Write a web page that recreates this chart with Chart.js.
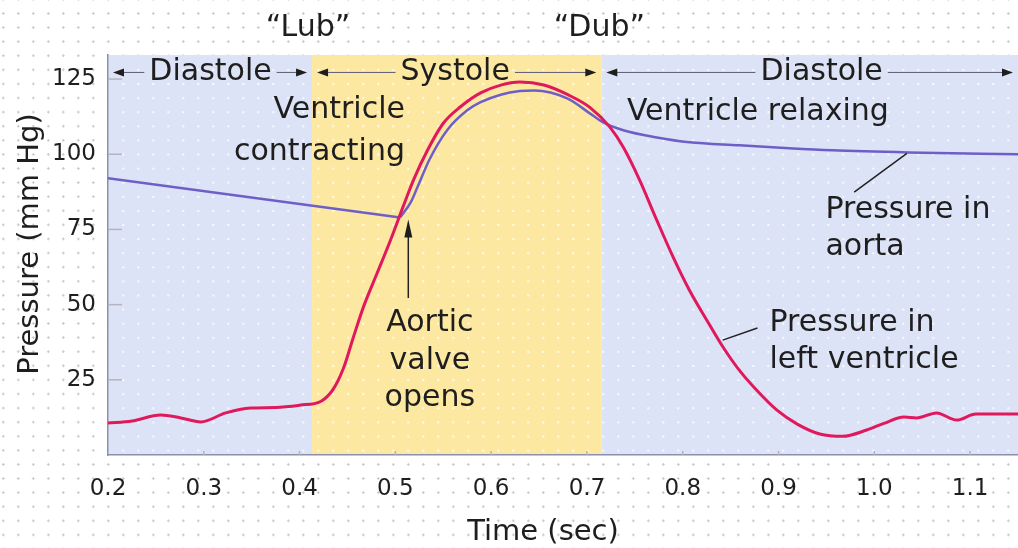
<!DOCTYPE html>
<html>
<head>
<meta charset="utf-8">
<script src="https://cdn.jsdelivr.net/npm/chart.js@4.4.0/dist/chart.umd.min.js"></script>
<style>
  html, body { margin: 0; padding: 0; }
  body {
    width: 1018px; height: 548px; overflow: hidden;
    background-color: #fff;
    background-image: radial-gradient(circle, #c4c4c4 0.9px, transparent 1.4px);
    background-size: 15px 14.1px;
    background-position: -4.2px 6.4px;
  }
  canvas { display: block; }
</style>
</head>
<body>
<canvas id="chart" width="1018" height="548"></canvas>
<script>
// pressure in the left ventricle (mm Hg) over time (sec)
const lvTime = [0.2, 0.225, 0.255, 0.275, 0.297, 0.323, 0.349, 0.375, 0.401, 0.422, 0.435, 0.446,
  0.456, 0.467, 0.481, 0.495, 0.508, 0.519, 0.533, 0.55, 0.568, 0.589, 0.61, 0.63, 0.655, 0.68,
  0.703, 0.724, 0.738, 0.755, 0.773, 0.79, 0.807, 0.825, 0.842, 0.859, 0.877, 0.898, 0.92, 0.943,
  0.967, 0.992, 1.01, 1.031, 1.044, 1.065, 1.086, 1.106, 1.15];
const lvPressure = [10.6, 11.3, 13.3, 12.4, 11.0, 14.0, 15.6, 15.8, 16.6, 17.8, 21.8, 29,
  39, 49.5, 60.5, 71.5, 82.5, 91.5, 101, 110.3, 115.8, 120.4, 123, 124, 123, 119.8,
  115.6, 109, 102.3, 91.4, 78, 65.8, 54.8, 44.9, 35.9, 28.2, 21.6, 15, 10.2, 7,
  6.2, 8.3, 10.5, 12.6, 12.3, 14, 11.6, 13.6, 13.6];

// pressure in the aorta: slow fall until the valve opens, then the systolic curve
const aortaFallTime = [0.2, 0.505];
const aortaFallPressure = [92, 79];
const aortaTime = [0.505, 0.516, 0.523, 0.536, 0.554, 0.575, 0.589, 0.61, 0.63, 0.645, 0.68,
  0.703, 0.717, 0.738, 0.773, 0.807, 0.859, 0.911, 0.956, 1.036, 1.15];
const aortaPressure = [79, 84, 89, 98.5, 108, 114.6, 117.3, 119.8, 121, 121.2, 118.5,
  113.6, 110.6, 108, 105.6, 104, 103, 102, 101.3, 100.6, 100];

const xTicks = [0.2, 0.3, 0.4, 0.5, 0.6, 0.7, 0.8, 0.9, 1.0, 1.1];
const yTicks = [25, 50, 75, 100, 125];

// cardiac phases between the bounds
const phaseNames = ['Diastole', 'Systole', 'Diastole'];
const phaseBounds = [0.2, 0.413, 0.715, 1.15];
const heartSounds = ['\u201CLub\u201D', '\u201CDub\u201D'];

const FONT = 'DejaVu Sans';
const INK = '#1e1e1e';

function pts(xs, ys) {
  return xs.map((t, i) => ({ x: t, y: ys[i] }));
}

function arrowHead(ctx, x, y, dir, len, half) {
  // dir: 'left' | 'right' | 'up'
  ctx.beginPath();
  if (dir === 'left') {
    ctx.moveTo(x, y); ctx.lineTo(x + len, y - half); ctx.lineTo(x + len, y + half);
  } else if (dir === 'right') {
    ctx.moveTo(x, y); ctx.lineTo(x - len, y - half); ctx.lineTo(x - len, y + half);
  } else {
    ctx.moveTo(x, y); ctx.lineTo(x - half, y + len); ctx.lineTo(x + half, y + len);
  }
  ctx.closePath();
  ctx.fill();
}

const bandsPlugin = {
  id: 'bands',
  beforeDraw(chart) {
    const { ctx, chartArea: a, scales: { x } } = chart;
    const fills = ['#dde3f6', '#fde8a2', '#dde3f6'];
    ctx.save();
    for (let i = 0; i < phaseNames.length; i++) {
      const x0 = x.getPixelForValue(phaseBounds[i]);
      const x1 = x.getPixelForValue(phaseBounds[i + 1]);
      ctx.fillStyle = fills[i];
      ctx.fillRect(x0, a.top, x1 - x0, a.bottom - a.top);
    }
    // light dot screen like the printed figure
    ctx.fillStyle = 'rgba(255,255,255,0.8)';
    for (let px = 3.3; px < a.right; px += 15) {
      if (px < a.left + 2) continue;
      for (let py = 13.5; py < a.bottom - 2; py += 14.1) {
        if (py < a.top + 2) continue;
        ctx.fillRect(px - 1, py - 1, 2, 2);
      }
    }
    ctx.restore();
  }
};

const notesPlugin = {
  id: 'notes',
  afterDraw(chart) {
    const { ctx, chartArea: a, scales: { x, y } } = chart;
    const X = v => x.getPixelForValue(v);
    const Y = v => y.getPixelForValue(v);
    ctx.save();

    // small inner tick marks
    ctx.strokeStyle = '#b4b4c0';
    ctx.lineWidth = 1.5;
    yTicks.forEach(v => {
      ctx.beginPath(); ctx.moveTo(a.left, Y(v)); ctx.lineTo(a.left + 14, Y(v)); ctx.stroke();
    });
    xTicks.slice(1).forEach(v => {
      ctx.beginPath(); ctx.moveTo(X(v), a.bottom); ctx.lineTo(X(v), a.bottom - 4); ctx.stroke();
    });

    ctx.fillStyle = INK;
    ctx.font = '30px "' + FONT + '"';
    ctx.textBaseline = 'middle';

    // phase labels with arrows
    const py = Y(127.2);
    for (let i = 0; i < phaseNames.length; i++) {
      const x0 = X(phaseBounds[i]) + 5;
      const x1 = X(phaseBounds[i + 1]) - 5;
      const cx = i === 1 ? X(0.5625) : (i === 0 ? X(0.307) : X(0.945));
      const w = ctx.measureText(phaseNames[i]).width;
      ctx.textAlign = 'center';
      ctx.fillText(phaseNames[i], cx, py);
      ctx.strokeStyle = '#5c5c78';
      ctx.lineWidth = 1;
      ctx.beginPath();
      ctx.moveTo(x0 + 6, py); ctx.lineTo(cx - w / 2 - 5, py);
      ctx.moveTo(cx + w / 2 + 5, py); ctx.lineTo(x1 - 6, py);
      ctx.stroke();
      arrowHead(ctx, x0, py, 'left', 11, 4);
      arrowHead(ctx, x1, py, 'right', 11, 4);
    }

    // heart sounds above the plot
    ctx.textAlign = 'center';
    ctx.fillText(heartSounds[0], X(phaseBounds[1]) - 4, 28);
    ctx.fillText(heartSounds[1], X(phaseBounds[2]) - 2, 28);

    // callouts
    ctx.textAlign = 'right';
    ctx.fillText('Ventricle', X(0.510), Y(114.6));
    ctx.fillText('contracting', X(0.510), Y(100.7));
    ctx.textAlign = 'left';
    ctx.fillText('Ventricle relaxing', X(0.7417), Y(114));
    ctx.fillText('Pressure in', X(0.949), Y(81.4));
    ctx.fillText('aorta', X(0.949), Y(69.1));
    ctx.fillText('Pressure in', X(0.8906), Y(43.9));
    ctx.fillText('left ventricle', X(0.8906), Y(31.6));
    ctx.textAlign = 'center';
    ctx.fillText('Aortic', X(0.536), Y(43.9));
    ctx.fillText('valve', X(0.536), Y(31.2));
    ctx.fillText('opens', X(0.536), Y(18.9));

    // leader lines and the valve arrow
    ctx.strokeStyle = '#222';
    ctx.lineWidth = 1.5;
    ctx.beginPath();
    ctx.moveTo(X(0.979), Y(87.4)); ctx.lineTo(X(1.034), Y(100.3));
    ctx.moveTo(X(0.878), Y(42.2)); ctx.lineTo(X(0.8417), Y(38.2));
    ctx.moveTo(X(0.5135), Y(52.2)); ctx.lineTo(X(0.5135), Y(74));
    ctx.stroke();
    arrowHead(ctx, X(0.5135), Y(78.3), 'up', 18, 4);

    // axis titles
    ctx.textAlign = 'center';
    ctx.font = '29px "' + FONT + '"';
    ctx.fillText('Time (sec)', 543, 532);
    ctx.translate(30, 244);
    ctx.rotate(-Math.PI / 2);
    ctx.fillText('Pressure (mm Hg)', 0, 0);
    ctx.restore();
  }
};

const tickFont = { family: FONT, size: 23 };

new Chart(document.getElementById('chart'), {
  type: 'line',
  data: {
    datasets: [
      {
        label: 'Pressure in left ventricle',
        data: pts(lvTime, lvPressure),
        borderColor: '#e0185c',
        borderWidth: 3,
        pointRadius: 0,
        cubicInterpolationMode: 'monotone'
      },
      {
        label: 'Pressure in aorta',
        data: pts(aortaFallTime, aortaFallPressure),
        borderColor: '#6e5ec8',
        borderWidth: 2.5,
        pointRadius: 0,
        tension: 0
      },
      {
        label: 'Pressure in aorta (systole)',
        data: pts(aortaTime, aortaPressure),
        borderColor: '#6e5ec8',
        borderWidth: 2.5,
        pointRadius: 0,
        cubicInterpolationMode: 'monotone'
      }
    ]
  },
  options: {
    responsive: false,
    animation: false,
    layout: { padding: { top: 55, right: 0, left: 0, bottom: 0 } },
    plugins: { legend: { display: false }, tooltip: { enabled: false } },
    scales: {
      x: {
        type: 'linear',
        min: 0.2,
        max: 1.15,
        afterBuildTicks: s => { s.ticks = xTicks.map(v => ({ value: v })); },
        afterFit: s => { s.height = 93; },
        ticks: { padding: 20, font: tickFont, color: INK, callback: v => v.toFixed(1) },
        grid: { drawOnChartArea: false, drawTicks: false },
        border: { color: '#8c90aa', width: 1.5 }
      },
      y: {
        min: 0,
        max: 133,
        afterBuildTicks: s => { s.ticks = yTicks.map(v => ({ value: v })); },
        afterFit: s => { s.width = 108; },
        ticks: { padding: 12, font: tickFont, color: INK },
        grid: { drawOnChartArea: false, drawTicks: false },
        border: { color: '#8c90aa', width: 1.5 }
      }
    }
  },
  plugins: [bandsPlugin, notesPlugin]
});
</script>
</body>
</html>
